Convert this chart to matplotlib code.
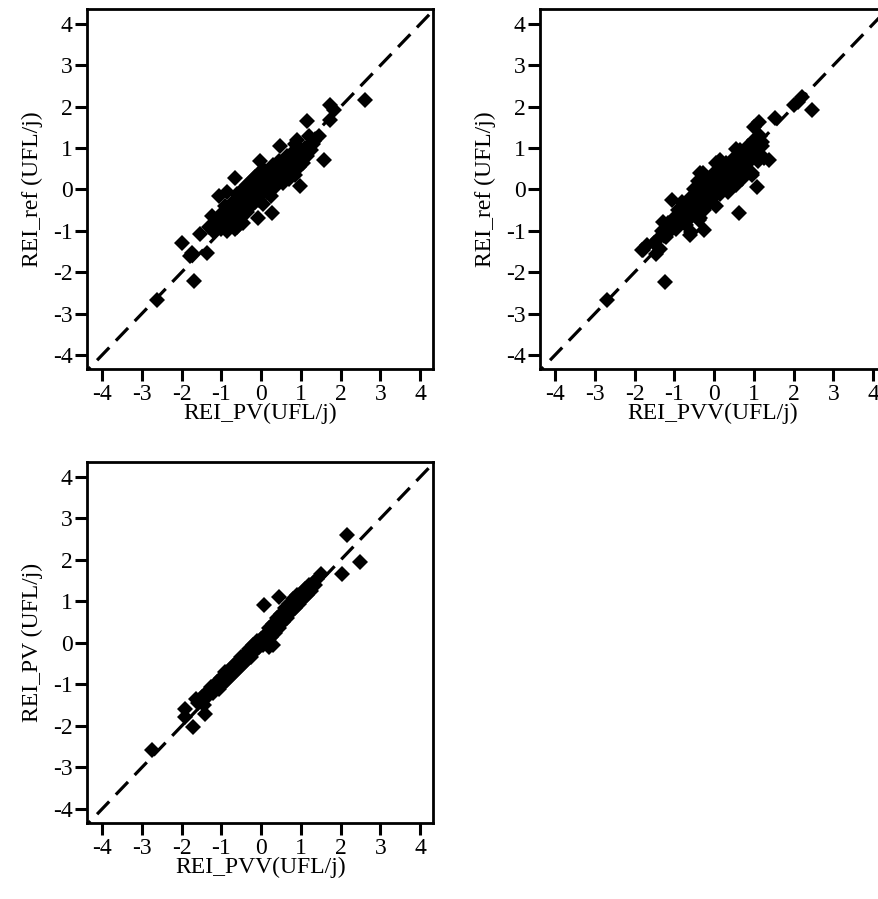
import matplotlib
matplotlib.use("Agg")
import matplotlib.pyplot as plt

plt.rcParams['font.family'] = 'Liberation Serif'
plt.rcParams['axes.unicode_minus'] = False

# panel 1: REI_PV (x) vs REI_ref (y)
pv_1 = [2.6, 1.74, 1.83, 1.73, 1.15, 1.32, 1.57, 0.48, 0.9, 0.98, -0.02, -0.65, -0.86,
        -1.07, 0.27, -0.07, -1.24, -0.86, -0.6, -1.99, -1.53, -1.74, -1.36, -1.8, -1.7, -2.62,
        -1.3, -1.2, -1.1, -1.0, -1.0, -0.9, -0.9, -0.85, -0.8, -0.75, -0.7, -0.7, -0.65, -0.6,
        -0.6, -0.55, -0.5, -0.5, -0.45, -0.45, -0.4, -0.4, -0.35, -0.35, -0.3, -0.3, -0.25,
        -0.25, -0.2, -0.2, -0.15, -0.15, -0.1, -0.1, -0.05, -0.05, 0.0, 0.0, 0.05, 0.05, 0.1,
        0.1, 0.15, 0.15, 0.2, 0.2, 0.25, 0.25, 0.3, 0.3, 0.35, 0.35, 0.4, 0.4, 0.45, 0.5, 0.5,
        0.55, 0.6, 0.6, 0.65, 0.7, 0.7, 0.75, 0.8, 0.8, 0.85, 0.9, 0.95, 1.0, 1.05, 1.1, 1.15,
        1.2, 1.25, 1.3, 0.85, 1.45]
ref_1 = [2.17, 2.05, 1.93, 1.69, 1.65, 1.17, 0.72, 1.05, 1.2, 0.08, 0.69, 0.28, -0.05,
         -0.16, -0.56, -0.68, -0.64, -0.97, -0.9, -1.29, -1.08, -1.53, -1.53, -1.6, -2.21, -2.66,
         -0.9, -1.0, -0.8, -0.95, -0.6, -0.75, -0.4, -1.0, -0.55, -0.85, -0.3, -0.6, -0.95, -0.45,
         -0.1, -0.7, -0.25, -0.5, 0.0, -0.8, -0.35, -0.15, -0.55, 0.1, -0.25, -0.05, -0.4,
         0.2, -0.15, 0.05, -0.3, 0.3, -0.05, 0.15, -0.25, 0.4, 0.05, -0.1, 0.25, -0.35, 0.1,
         0.45, -0.05, 0.25, 0.35, 0.05, 0.5, -0.15, 0.2, 0.6, 0.35, 0.05, 0.45, 0.2, 0.7, 0.3, 0.5,
         0.15, 0.6, 0.4, 0.8, 0.45, 0.25, 0.65, 0.9, 0.5, 0.35, 0.7, 0.55, 0.85, 0.65, 1.0, 0.8,
         1.3, 0.95, 1.1, 1.1, 1.3]

# panel 2: REI_PVV (x) vs REI_ref (y)
pvv_2 = [2.45, 2.0, 2.2, 2.1, 1.53, 1.12, 1.2, 1.37, 1.08, 0.95, 0.63, 0.04, 0.54, -0.29,
         -1.07, -0.25, -0.58, -0.37, -1.29, -1.7, -1.45, -1.78, -1.24, -2.69, -1.82, -0.61,
         0.15, 1.0, 0.82, -0.36,
         -1.5, -1.4, -1.35, -1.3, -1.2, -1.15, -1.1, -1.0, -0.95, -0.9, -0.85, -0.8, -0.75,
         -0.7, -0.65, -0.6, -0.55, -0.5, -0.5, -0.45, -0.4, -0.4, -0.35, -0.3, -0.3, -0.25,
         -0.2, -0.2, -0.15, -0.1, -0.05, 0.0, 0.0, 0.05, 0.1, 0.15, 0.15, 0.2, 0.25, 0.3, 0.3,
         0.35, 0.4, 0.45, 0.5, 0.5, 0.55, 0.6, 0.65, 0.7, 0.7, 0.75, 0.8, 0.85, 0.9, 0.95, 1.0,
         1.05, 1.1, 1.15, 1.2, 1.25]
ref_2 = [1.92, 2.04, 2.24, 2.12, 1.72, 1.64, 1.15, 0.71, 0.06, 0.39, -0.58, 0.63, 0.99, 0.39,
         -0.26, -0.98, -1.03, -0.74, -0.78, -1.35, -1.55, -1.47, -2.24, -2.68, -1.47, -1.1,
         0.71, 1.52, 0.95, 0.39,
         -1.3, -1.2, -1.45, -1.0, -1.15, -0.8, -1.0, -0.7, -0.95, -0.5, -0.8, -0.3, -0.6,
         -0.85, -0.4, -0.2, -0.65, -0.35, 0.0, -0.5, -0.15, 0.2, -0.7, -0.3, 0.05, -0.5,
         -0.1, 0.3, -0.35, 0.1, -0.2, 0.4, 0.0, -0.4, 0.2, 0.5, -0.1, 0.05, 0.35, 0.65, 0.15,
         -0.05, 0.45, 0.25, 0.75, 0.55, 0.1, 0.4, 0.95, 0.6, 0.25, 0.8, 0.5, 1.05, 0.7, 0.35, 1.2,
         0.9, 0.7, 1.3, 1.05, 0.75]

# panel 3: REI_PVV (x) vs REI_PV (y)
pvv_3 = [2.16, 2.49, 2.03, -1.71, -1.92, -1.92, -1.42, -1.63, 0.2, 0.07, 0.45, -2.75, 0.3,
         -1.6, -1.5, -1.45, -1.4, -1.3, -1.25, -1.2, -1.1, -1.05, -1.0, -0.95, -0.9, -0.85,
         -0.8, -0.75, -0.7, -0.65, -0.6, -0.55, -0.5, -0.45, -0.4, -0.35, -0.3, -0.25, -0.2,
         -0.15, -0.1, -0.05, 0.0, 0.05, 0.1, 0.15, 0.2, 0.25, 0.3, 0.35, 0.4, 0.45, 0.5, 0.55,
         0.6, 0.65, 0.7, 0.75, 0.8, 0.85, 0.9, 0.95, 1.0, 1.05, 1.1, 1.15, 1.2, 1.25, 1.3, 1.35,
         1.4, 1.5]
pv_3 = [2.6, 1.96, 1.67, -2.03, -1.59, -1.79, -1.71, -1.35, -0.1, 0.91, 1.11, -2.59, -0.05,
        -1.45, -1.3, -1.5, -1.2, -1.25, -1.05, -1.2, -0.95, -1.1, -0.85, -1.0, -0.7, -0.9,
        -0.65, -0.8, -0.55, -0.7, -0.45, -0.6, -0.35, -0.5, -0.3, -0.4, -0.15, -0.35, -0.05,
        -0.2, 0.05, -0.1, 0.1, -0.05, 0.2, 0.0, 0.35, 0.15, 0.45, 0.25, 0.6, 0.35, 0.7, 0.5,
        0.85, 0.6, 0.95, 0.75, 1.05, 0.85, 1.15, 0.95, 1.2, 1.05, 1.3, 1.15, 1.4, 1.25, 1.45, 1.4,
        1.55, 1.65]

ticks = [-4, -3, -2, -1, 0, 1, 2, 3, 4]
diag = [-4.6, 4.6]

panels = [
    (pv_1, ref_1, 'REI_PV(UFL/j)', 'REI_ref (UFL/j)', [0.099, 0.5895, 0.394, 0.4004]),
    (pvv_2, ref_2, 'REI_PVV(UFL/j)', 'REI_ref (UFL/j)', [0.6143, 0.5895, 0.394, 0.4004]),
    (pvv_3, pv_3, 'REI_PVV(UFL/j)', 'REI_PV (UFL/j)', [0.099, 0.0845, 0.394, 0.4016]),
]

fig = plt.figure(figsize=(8.79, 8.99), dpi=100)

for xs, ys, xlab, ylab, pos in panels:
    ax = fig.add_axes(pos)
    ax.plot(diag, diag, color='black', lw=2.3, dashes=(5.5, 3.0), zorder=1)
    ax.plot(xs, ys, 'D', color='black', ms=8.5, mew=0, zorder=2)
    ax.set_xlim(-4.38, 4.33)
    ax.set_ylim(-4.34, 4.36)
    ax.set_xticks(ticks)
    ax.set_yticks(ticks)
    ax.tick_params(direction='out', length=8.5, width=2.2, labelsize=17, colors='black', pad=2)
    for s in ax.spines.values():
        s.set_linewidth(2)
    ax.set_xlabel(xlab, fontsize=17, labelpad=-1)
    ax.set_ylabel(ylab, fontsize=17, labelpad=7)

fig.savefig('out.png', dpi=100)
